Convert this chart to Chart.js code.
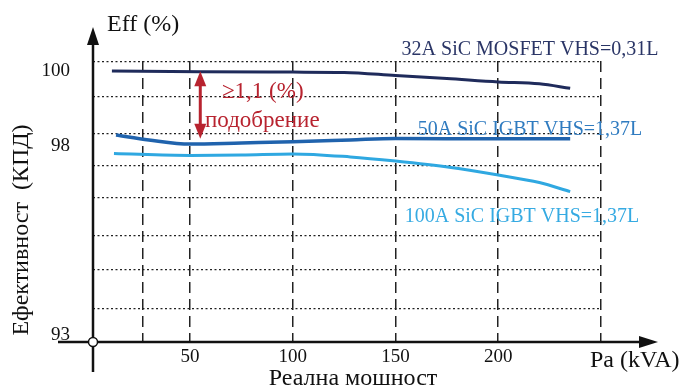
<!DOCTYPE html>
<html lang="bg">

<head>
    <meta charset="UTF-8">
    <title>Ефективност (КПД)</title>
    <style>
        body {
            margin: 0;
            background-color: #fff;
        }

        #wrap {
            width: 687px;
            height: 386px;
            position: relative;
        }
    </style>
</head>

<body>
    <div id="wrap">
        <canvas id="effChart"></canvas>
    </div>

    <script src="https://cdn.jsdelivr.net/npm/chart.js"></script>
    <script>
        // Power in kVA, efficiency in %
        const power1 = [12, 55, 100, 125, 150, 175, 200, 220, 235];
        const eff1 = [100.00, 99.98, 99.97, 99.96, 99.88, 99.80, 99.71, 99.66, 99.54];

        const power2 = [14, 30, 50, 75, 100, 128, 150, 200, 235];
        const eff2 = [98.30, 98.17, 98.06, 98.09, 98.12, 98.17, 98.21, 98.20, 98.20];

        const power3 = [13, 50, 75, 100, 128, 150, 177, 200, 220, 235];
        const eff3 = [97.81, 97.76, 97.77, 97.80, 97.72, 97.61, 97.44, 97.24, 97.04, 96.80];

        const seriesNames = ['32A SiC MOSFET VHS=0,31L', '50A SiC IGBT VHS=1,37L', '100A SiC IGBT VHS=1,37L'];

        // axis ticks
        const xGridValues = [27, 50, 100, 150, 200, 250];
        const xLabelValues = [50, 100, 150, 200];
        const yGridValues = [92.81, 93.685, 94.72, 95.62, 96.63, 97.48, 98.35, 99.33, 100.26];
        const yLabelValues = [93, 98, 100];

        const serif = "'Liberation Serif', 'DejaVu Serif', serif";

        function toPoints(xs, ys) {
            return xs.map((v, i) => ({ x: v, y: ys[i] }));
        }

        // arrows, axis titles and curve labels
        const decor = {
            id: 'decor',
            afterDraw(chart) {
                const { ctx, chartArea: a, scales: { x, y } } = chart;
                ctx.save();

                // axes with arrow heads
                ctx.strokeStyle = '#111';
                ctx.fillStyle = '#111';
                ctx.lineWidth = 2.5;
                ctx.beginPath();
                ctx.moveTo(a.left, a.bottom + 30);
                ctx.lineTo(a.left, 40);
                ctx.stroke();
                ctx.beginPath();
                ctx.moveTo(a.left, 27);
                ctx.lineTo(a.left - 6, 45);
                ctx.lineTo(a.left + 6, 45);
                ctx.closePath();
                ctx.fill();

                ctx.beginPath();
                ctx.moveTo(58, a.bottom);
                ctx.lineTo(642, a.bottom);
                ctx.stroke();
                ctx.beginPath();
                ctx.moveTo(658, a.bottom);
                ctx.lineTo(639, a.bottom - 6);
                ctx.lineTo(639, a.bottom + 6);
                ctx.closePath();
                ctx.fill();

                ctx.beginPath();
                ctx.arc(a.left, a.bottom, 4.5, 0, Math.PI * 2);
                ctx.fillStyle = '#fff';
                ctx.fill();
                ctx.lineWidth = 1.5;
                ctx.stroke();

                // axis titles
                ctx.fillStyle = '#111';
                ctx.font = '24px ' + serif;
                ctx.textAlign = 'left';
                ctx.textBaseline = 'alphabetic';
                ctx.fillText('Eff (%)', 107, 31);
                ctx.fillText('Pa (kVA)', 590, 367);
                ctx.textAlign = 'center';
                ctx.fillText('Реална мошност', 353, 385);

                ctx.save();
                ctx.translate(28, 230);
                ctx.rotate(-Math.PI / 2);
                ctx.textAlign = 'center';
                ctx.fillText('Ефективност  (КПД)', 0, 0);
                ctx.restore();

                // curve labels
                ctx.font = '20px ' + serif;
                ctx.textAlign = 'center';
                ctx.fillStyle = '#2a3566';
                ctx.fillText(seriesNames[0], 530, 55);
                ctx.fillStyle = '#2f7bc0';
                ctx.fillText(seriesNames[1], 530, 135);
                ctx.fillStyle = '#35aae2';
                ctx.fillText(seriesNames[2], 522, 222);

                // improvement arrow between the two upper curves
                const red = '#b8232f';
                const ax = x.getPixelForValue(55);
                const top = y.getPixelForValue(99.99);
                const bot = y.getPixelForValue(98.20);
                ctx.strokeStyle = red;
                ctx.fillStyle = red;
                ctx.lineWidth = 3;
                ctx.beginPath();
                ctx.moveTo(ax, top + 12);
                ctx.lineTo(ax, bot - 12);
                ctx.stroke();
                ctx.beginPath();
                ctx.moveTo(ax, top);
                ctx.lineTo(ax - 6, top + 15);
                ctx.lineTo(ax + 6, top + 15);
                ctx.closePath();
                ctx.fill();
                ctx.beginPath();
                ctx.moveTo(ax, bot);
                ctx.lineTo(ax - 6, bot - 15);
                ctx.lineTo(ax + 6, bot - 15);
                ctx.closePath();
                ctx.fill();

                ctx.font = '23px ' + serif;
                ctx.textAlign = 'left';
                ctx.fillText('≥1,1 (%)', 222, 98);
                ctx.fillText('подобрение', 205, 127);

                ctx.restore();
            }
        };

        const ctx = document.getElementById('effChart').getContext('2d');

        new Chart(ctx, {
            type: 'line',
            data: {
                datasets: [
                    {
                        label: seriesNames[0],
                        data: toPoints(power1, eff1),
                        borderColor: '#1f2b5b',
                        borderWidth: 3,
                        pointRadius: 0,
                        cubicInterpolationMode: 'monotone'
                    },
                    {
                        label: seriesNames[1],
                        data: toPoints(power2, eff2),
                        borderColor: '#2063ad',
                        borderWidth: 3.5,
                        pointRadius: 0,
                        cubicInterpolationMode: 'monotone'
                    },
                    {
                        label: seriesNames[2],
                        data: toPoints(power3, eff3),
                        borderColor: '#2fa8e1',
                        borderWidth: 3,
                        pointRadius: 0,
                        cubicInterpolationMode: 'monotone'
                    }
                ]
            },
            options: {
                responsive: true,
                maintainAspectRatio: false,
                animation: false,
                layout: {
                    padding: { left: 0, right: 86, top: 61, bottom: 0 }
                },
                plugins: {
                    legend: { display: false },
                    tooltip: { enabled: false }
                },
                scales: {
                    x: {
                        type: 'linear',
                        min: 2.8,
                        max: 250,
                        afterFit: s => { s.height = 44; },
                        afterBuildTicks: s => {
                            s.ticks = xGridValues.map(v => ({ value: v }));
                        },
                        grid: {
                            color: '#222',
                            lineWidth: 1.5,
                            drawTicks: false
                        },
                        border: { display: false, dash: [11, 6] },
                        ticks: {
                            autoSkip: false,
                            maxRotation: 0,
                            padding: 4,
                            color: '#111',
                            font: { family: serif, size: 19 },
                            callback: v => xLabelValues.includes(v) ? String(v) : ''
                        }
                    },
                    y: {
                        type: 'linear',
                        min: 92.81,
                        max: 100.265,
                        afterFit: s => { s.width = 93; },
                        afterBuildTicks: s => {
                            const vals = yGridValues.concat(yLabelValues).sort((p, q) => p - q);
                            s.ticks = vals.map(v => ({ value: v }));
                        },
                        grid: {
                            color: c => yLabelValues.includes(c.tick.value) || c.index === 0 ? 'rgba(0,0,0,0)' : '#222',
                            lineWidth: 1.3,
                            drawTicks: false
                        },
                        border: { display: false, dash: [2, 2.5] },
                        ticks: {
                            autoSkip: false,
                            padding: 23,
                            color: '#111',
                            font: { family: serif, size: 19 },
                            callback: v => yLabelValues.includes(v) ? String(v) : ''
                        }
                    }
                }
            },
            plugins: [decor]
        });
    </script>
</body>

</html>
